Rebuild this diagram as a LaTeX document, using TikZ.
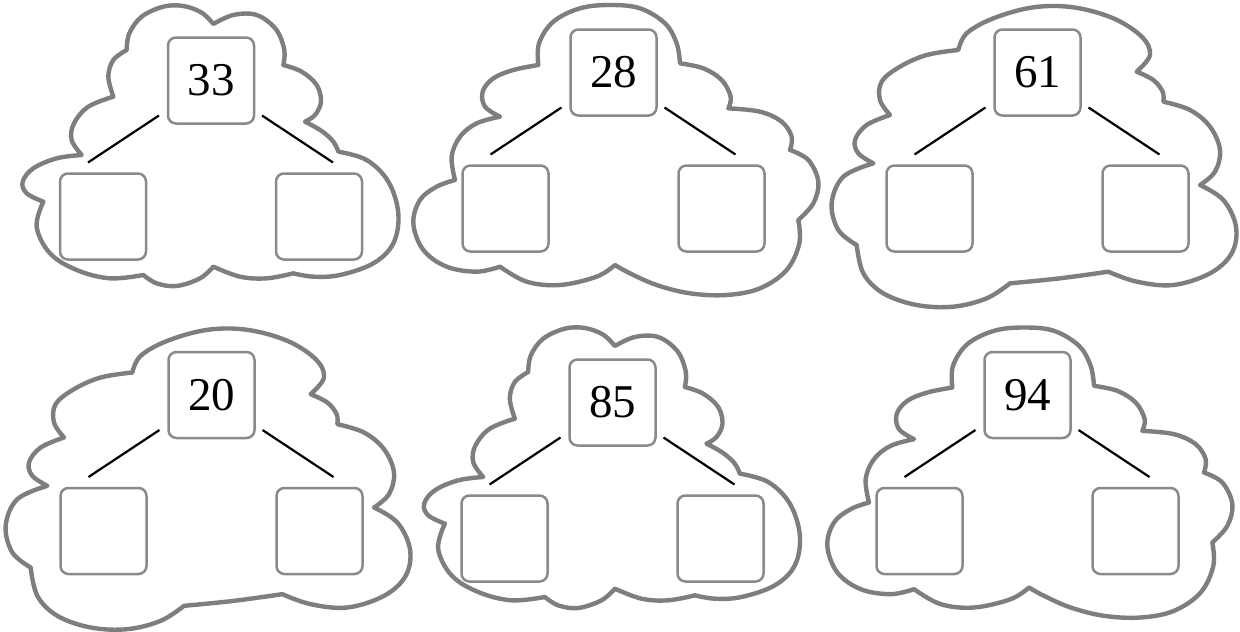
\documentclass[tikz,border=0pt]{standalone}
\usepackage{fontspec}
\setmainfont{Liberation Serif}
\usetikzlibrary{calc}
\definecolor{cloudgray}{HTML}{7E7E80}
\definecolor{boxgray}{HTML}{8A8A8A}
\tikzset{
  cloudline/.style={draw=cloudgray, line width=4.4pt, line join=round},
  numbox/.style={draw=boxgray, line width=2.5pt, rounded corners=8pt, minimum width=86pt, minimum height=86pt, inner sep=0pt, fill=white, font=\fontsize{47}{47}\selectfont},
  link/.style={draw=black, line width=2.2pt},
  sm/.style={smooth, tension=0.6},
}
\newcommand\cloudA{plot[sm] coordinates {(380,150)(388,100)(425,50)(490,20)(550,18)(605,38)(640,72)}
 -- plot[sm] coordinates {(640,72)(700,45)(770,45)(828,88)(853,150)(850,195)}
 -- plot[sm] coordinates {(850,195)(905,215)(950,255)(963,305)(945,345)(915,365)}
 -- plot[sm] coordinates {(915,365)(965,393)(1000,425)(1015,455)}
 -- plot[sm] coordinates {(1015,455)(1100,480)(1165,545)(1195,640)(1180,730)(1120,790)(1020,825)(940,830)(880,820)}
 -- plot[sm] coordinates {(880,820)(800,835)(720,830)(640,800)}
 -- plot[sm] coordinates {(640,800)(600,835)(530,858)(470,850)(430,825)}
 -- plot[sm] coordinates {(430,825)(330,835)(230,810)(150,760)(110,680)(130,605)}
 -- plot[sm] coordinates {(130,605)(80,580)(68,545)(100,505)(170,475)(245,465)}
 -- plot[sm] coordinates {(245,465)(215,420)(222,370)(265,320)(340,290)}
 -- plot[sm] coordinates {(340,290)(325,230)(340,180)(380,150)} -- cycle}
\newcommand\cloudB{plot[sm] coordinates {(385,195)(387,130)(430,65)(510,25)(600,15)(690,25)(765,70)(800,130)(810,190)}
 -- plot[sm] coordinates {(810,190)(880,205)(935,240)(962,290)(955,325)}
 -- plot[sm] coordinates {(955,325)(1050,335)(1115,365)(1145,410)(1140,450)}
 -- plot[sm] coordinates {(1140,450)(1195,480)(1225,545)(1210,610)(1165,660)}
 -- plot[sm] coordinates {(1165,660)(1168,730)(1130,810)(1050,865)(950,885)(840,880)(740,855)(660,820)(615,795)}
 -- plot[sm] coordinates {(615,795)(560,830)(450,855)(350,845)(270,800)}
 -- plot[sm] coordinates {(270,800)(200,815)(110,800)(40,750)(10,670)(30,600)(80,560)(135,540)}
 -- plot[sm] coordinates {(135,540)(125,470)(150,410)(200,370)(270,350)}
 -- plot[sm] coordinates {(270,350)(225,320)(218,275)(250,235)(310,210)(385,195)} -- cycle}
\newcommand\cloudC{plot[sm] coordinates {(415,150)(440,100)(520,55)(640,22)(760,22)(880,55)(965,110)(990,165)(950,215)}
 -- plot[sm] coordinates {(950,215)(1000,240)(1028,275)(1030,305)}
 -- plot[sm] coordinates {(1030,305)(1110,330)(1170,380)(1200,450)(1185,515)(1140,555)}
 -- plot[sm] coordinates {(1140,555)(1210,600)(1248,680)(1235,760)(1170,820)(1060,855)(950,845)(865,815)}
 -- plot[sm] coordinates {(865,815)(720,835)(570,850)}
 -- plot[sm] coordinates {(570,850)(500,895)(400,920)(290,915)(190,880)(130,820)(110,735)}
 -- plot[sm] coordinates {(110,735)(55,690)(35,610)(70,530)(160,490)}
 -- plot[sm] coordinates {(160,490)(115,460)(105,420)(140,375)(210,345)}
 -- plot[sm] coordinates {(210,345)(180,300)(185,245)(240,200)(320,165)(415,150)} -- cycle}
\newcommand\numgroup[4]{%
  \node[numbox] (#1t) at (#2,#3) {#4};
  \node[numbox] (#1l) at ($(#1t.center)+(-108,136)$) {};
  \node[numbox] (#1r) at ($(#1t.center)+(108,136)$) {};
  \coordinate (#1la) at ($(#1t.center)+(-52,35)$);
  \coordinate (#1lb) at ($(#1l.center)+(-15,-54)$);
  \coordinate (#1ra) at ($(#1t.center)+(51,35)$);
  \coordinate (#1rb) at ($(#1r.center)+(14,-54)$);
  \draw[link] (#1la) -- (#1lb);
  \draw[link] (#1ra) -- (#1rb);
}
\begin{document}
\begin{tikzpicture}[x=1pt,y=-1pt]
\useasboundingbox (0,0) rectangle (1240,632);
\fill[white] (0,0) rectangle (1240,632);
% clouds
\draw[cloudline, shift={(0,0)}, x=0.33333pt, y=-0.33333pt] \cloudA;
\draw[cloudline, shift={(401.5,322)}, x=0.33333pt, y=-0.33333pt] \cloudA;
\draw[cloudline, shift={(410,0)}, x=0.33333pt, y=-0.33333pt] \cloudB;
\draw[cloudline, shift={(824,322.5)}, x=0.33333pt, y=-0.33333pt] \cloudB;
\draw[cloudline, shift={(820,0)}, x=0.33333pt, y=-0.33333pt] \cloudC;
\draw[cloudline, shift={(-6,322.5)}, x=0.33333pt, y=-0.33333pt] \cloudC;
% groups
\numgroup{a}{211}{80.5}{33}
\numgroup{b}{613.5}{72.5}{28}
\numgroup{c}{1037.5}{72.5}{61}
\numgroup{d}{211.5}{395}{20}
\numgroup{e}{612.5}{402.5}{85}
\numgroup{f}{1027.5}{395}{94}
\end{tikzpicture}
\end{document}
